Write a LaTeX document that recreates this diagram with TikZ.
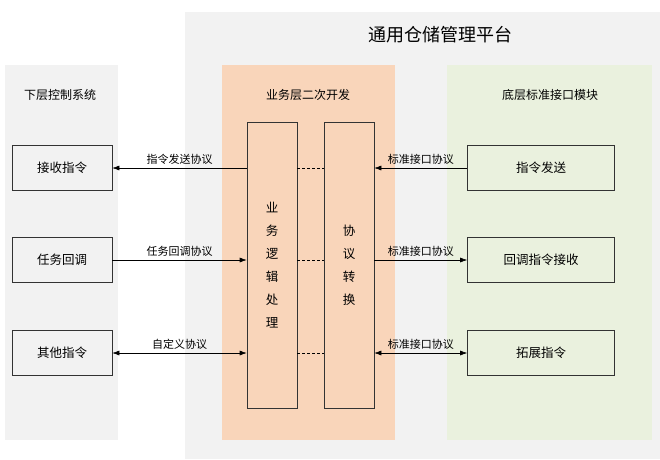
\documentclass[tikz,border=0pt]{standalone}
\usepackage{fontspec}
\setmainfont{Noto Sans CJK SC}
\usetikzlibrary{arrows.meta}
\definecolor{pgrey}{HTML}{F2F2F2}
\definecolor{porange}{HTML}{F9D5BA}
\definecolor{pgreen}{HTML}{EAF1DE}
\tikzset{
  box/.style={draw=black!80,line width=0.6pt,fill=none,minimum width=100pt,minimum height=45pt,font=\fontsize{12.5}{15}\selectfont},
  tall/.style={draw=black!80,line width=0.6pt,minimum width=50pt,minimum height=286pt,align=center,font=\fontsize{12.5}{23}\selectfont},
  lbl/.style={font=\fontsize{11}{13}\selectfont,above,inner sep=3pt},
  arr/.style={line width=0.6pt,-{Latex[length=7pt,width=5pt]}},
  barr/.style={line width=0.6pt,{Latex[length=7pt,width=5pt]}-{Latex[length=7pt,width=5pt]}},
  dsh/.style={densely dashed,line width=0.5pt},
  ttl/.style={font=\fontsize{12}{14}\selectfont}
}
\begin{document}
\begin{tikzpicture}[x=1pt,y=-1pt]
\useasboundingbox (0,0) rectangle (660,459);
\fill[white] (0,0) rectangle (660,459);
\fill[pgrey] (185,12) rectangle (660,459);
\fill[pgrey] (5,65) rectangle (118,440);
\fill[porange] (222,65) rectangle (395,440);
\fill[pgreen] (447,65) rectangle (652,440);
\node[font=\fontsize{18}{21}\selectfont] (title) at (440,35) {通用仓储管理平台};
\node[ttl] (t1) at (60,95) {下层控制系统};
\node[ttl] (t2) at (308,95) {业务层二次开发};
\node[ttl] (t3) at (550,95) {底层标准接口模块};
\node[box] (l1) at (62,168) {接收指令};
\node[box] (l2) at (62,260) {任务回调};
\node[box] (l3) at (62,353) {其他指令};
\node[box,minimum width=147pt] (r1) at (541,168) {指令发送};
\node[box,minimum width=147pt] (r2) at (541,260) {回调指令接收};
\node[box,minimum width=147pt] (r3) at (541,353) {拓展指令};
\node[tall] (b1) at (272,265) {业\\务\\逻\\辑\\处\\理};
\node[tall] (b2) at (349,265) {协\\议\\转\\换};
\draw[arr] (b1.west |- l1) -- node[lbl]{指令发送协议} (l1.east);
\draw[arr] (l2.east) -- node[lbl]{任务回调协议} (b1.west |- l2);
\draw[barr] (l3.east) -- node[lbl]{自定义协议} (b1.west |- l3);
\draw[arr] (r1.west) -- node[lbl]{标准接口协议} (b2.east |- r1);
\draw[arr] (b2.east |- r2) -- node[lbl]{标准接口协议} (r2.west);
\draw[barr] (b2.east |- r3) -- node[lbl]{标准接口协议} (r3.west);
\foreach \r in {l1,l2,l3}{
  \draw[dsh] (b1.east |- \r) -- (b2.west |- \r);
}
\end{tikzpicture}
\end{document}
